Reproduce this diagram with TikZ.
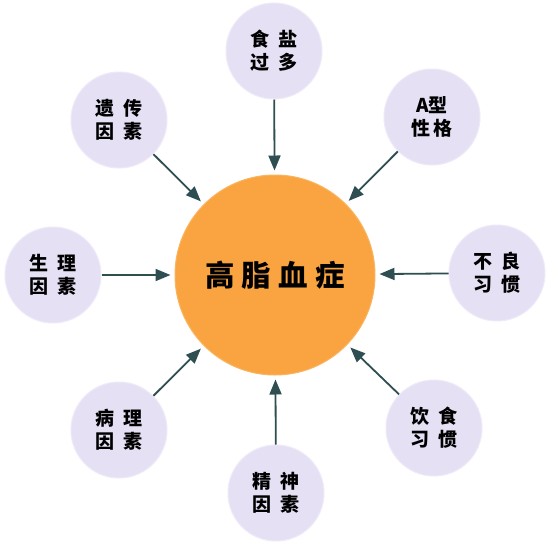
\documentclass[tikz,border=0pt]{standalone}
\usepackage{fontspec}
\newfontfamily\cjk{Noto Sans CJK SC}
\usetikzlibrary{arrows.meta}
\definecolor{lav}{HTML}{E6E0F5}
\definecolor{lavedge}{HTML}{EEEAF8}
\definecolor{orng}{HTML}{F9A441}
\definecolor{orngedge}{HTML}{FBB45E}
\definecolor{arrcol}{HTML}{2E4E52}
\newcommand{\gp}{\hspace{0.45em}}
\begin{document}
\begin{tikzpicture}[x=1pt,y=-1pt,
  factor/.style={circle, minimum size=96pt, inner sep=0pt, fill=lav, draw=lavedge, line width=1pt,
    align=center, font=\cjk\bfseries\fontsize{19}{23}\selectfont},
  hub/.style={circle, minimum size=200pt, inner sep=0pt, fill=orng, draw=orngedge, line width=1pt,
    font=\cjk\bfseries\fontsize{29.5}{32}\selectfont},
  arr/.style={draw=arrcol, line width=1.8pt, shorten >=4pt,
    -{Triangle[length=15pt,width=12pt]}}]
\useasboundingbox (0,0) rectangle (550,542);
\fill[white] (0,0) rectangle (550,542);
\node[hub] (c) at (275,275) {高\hspace{0.24em}脂\hspace{0.24em}血\hspace{0.24em}症};
\node[factor] (n) at (274,51) {食\gp 盐\\过\gp 多};
\node[factor] (ne) at (432,117) {A型\\性\hspace{0.2em}格};
\node[factor] (e) at (497,273) {不\gp 良\\习\gp 惯};
\node[factor] (se) at (434,428) {饮\gp 食\\习\gp 惯};
\node[factor] (s) at (276,493) {精\gp 神\\因\gp 素};
\node[factor] (sw) at (119,430) {病\gp 理\\因\gp 素};
\node[factor] (w) at (53,275) {生\gp 理\\因\gp 素};
\node[factor] (nw) at (119,120) {遗\gp 传\\因\gp 素};
\foreach \k in {n,ne,e,se,s,sw,w,nw}{\draw[arr] (\k) -- (c);}
\end{tikzpicture}
\end{document}
